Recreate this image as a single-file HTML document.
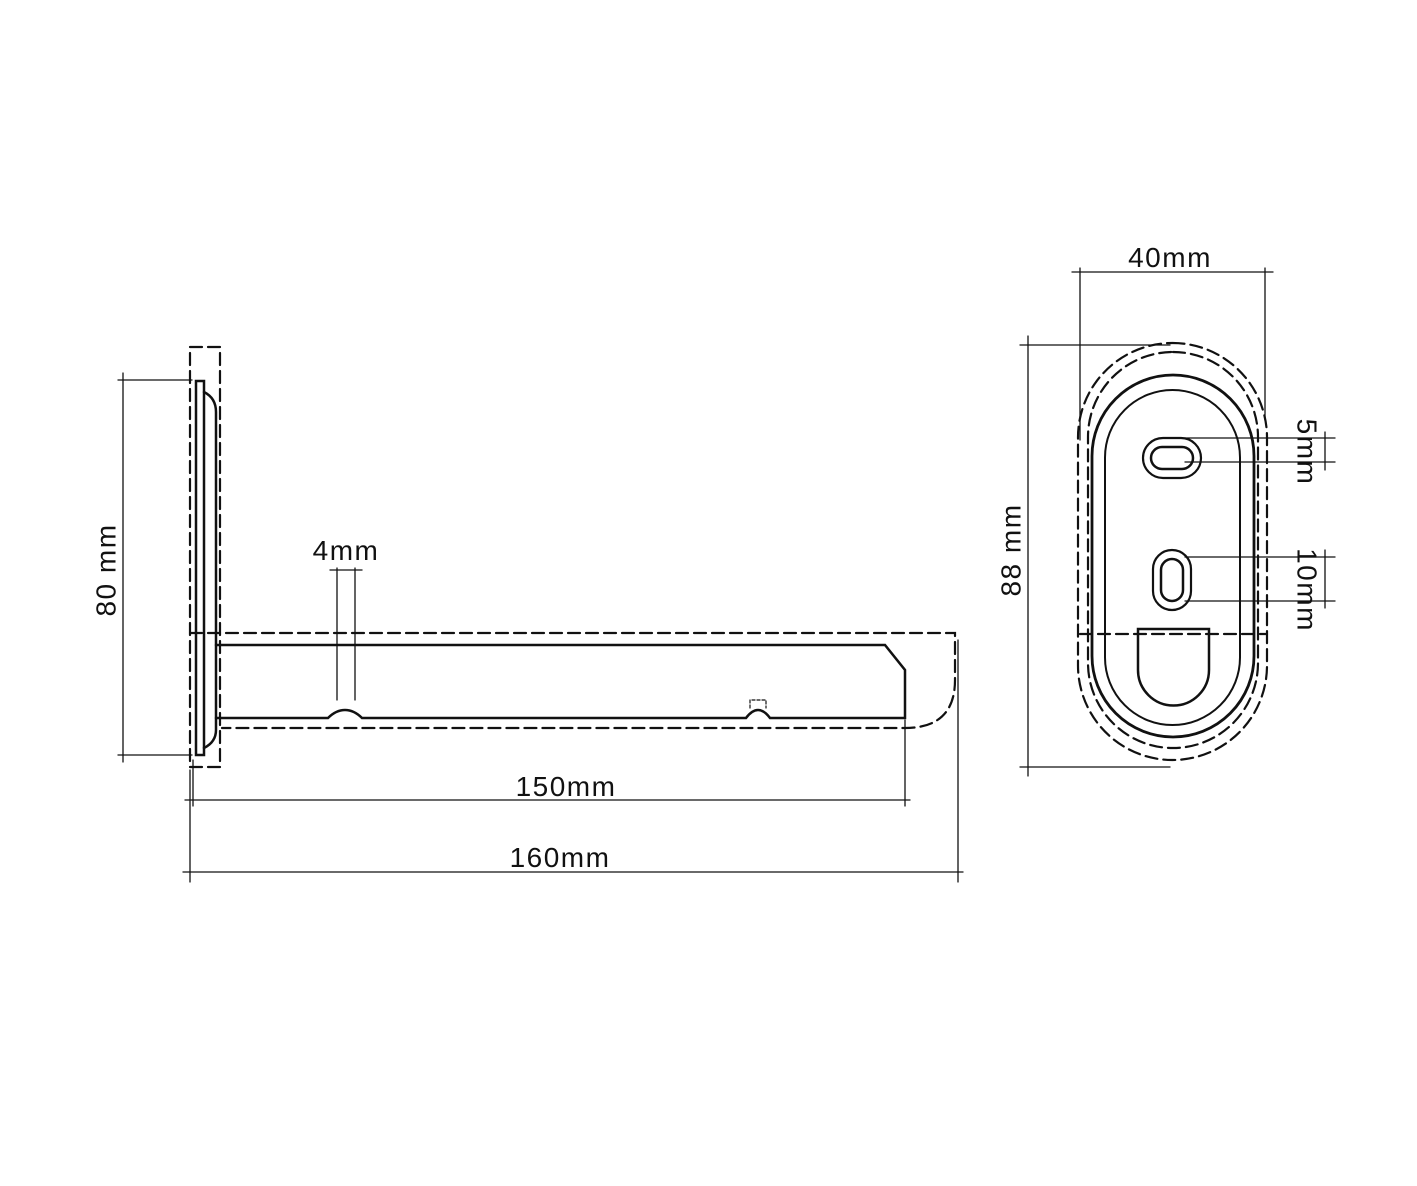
<!DOCTYPE html>
<html><head><style>html,body{margin:0;padding:0;background:#fff}</style></head><body>
<svg width="1417" height="1181" viewBox="0 0 1417 1181" xmlns="http://www.w3.org/2000/svg" font-family="Liberation Sans, sans-serif">
<rect width="1417" height="1181" fill="#fff"/>
<g fill="none" stroke="#111" stroke-linecap="round">
<!-- LEFT VIEW -->
<g stroke-width="2.2" stroke-dasharray="12,6">
<rect x="190" y="347" width="30" height="420"/>
<path d="M190 633 H955 V680 Q955 728 905 728 H222"/>
</g>
<rect x="196" y="381" width="8" height="374" stroke-width="2.5"/>
<path d="M204 392 Q216 398 216 412 V730 Q216 742 204 748" stroke-width="2.5"/>
<path d="M216 645 H885 L905 670 V718 H770 Q764 710 758 710 Q752 710 746 718 H362 Q354 710 345 710 Q336 710 328 718 H216" stroke-width="2.5"/>
<path d="M750 708 V700 H766 V708" stroke-width="1.2" stroke-dasharray="3,2"/>
<g stroke-width="1.3">
<path d="M337 568 V700 M355 568 V700"/>
<path d="M330 570 H362"/>
<path d="M118 380 H192 M118 755 H192 M123 373 V762"/>
<path d="M185 800 H910 M193 760 V806 M905 720 V806"/>
<path d="M183 872 H963 M190 770 V882 M958 640 V882"/>
</g>
<!-- RIGHT VIEW -->
<g stroke-width="1.3">
<path d="M1072 272 H1273 M1080 268 V440 M1265 268 V420"/>
<path d="M1020 345 H1170 M1020 767 H1170 M1028 336 V776"/>
<path d="M1185 438 H1335 M1185 462 H1335 M1325 432 V470"/>
<path d="M1185 557 H1335 M1185 601 H1335 M1325 550 V608"/>
</g>
<g stroke-width="2.2" stroke-dasharray="12,6">
<rect x="1078" y="343" width="189" height="417" rx="94.5"/>
<rect x="1088" y="352" width="170" height="396" rx="85"/>
<path d="M1080 634 H1267"/>
</g>
<rect x="1092" y="375" width="162" height="362" rx="81" stroke-width="2.8"/>
<rect x="1105" y="390" width="135" height="335" rx="67.5" stroke-width="2"/>
<rect x="1143" y="438" width="58" height="40" rx="20" stroke-width="2.2"/>
<rect x="1151" y="447" width="42" height="22" rx="11" stroke-width="2.5"/>
<rect x="1153" y="550" width="38" height="60" rx="19" stroke-width="2.2"/>
<rect x="1161" y="559" width="22" height="42" rx="11" stroke-width="2.5"/>
<path d="M1138 629 H1209 V670 A35.5 35.5 0 0 1 1138 670 Z" stroke-width="2.5"/>
</g>
<g fill="#111" font-size="28" letter-spacing="1.5">
<text x="108" y="570" transform="rotate(-90 108 570)" text-anchor="middle" dominant-baseline="middle">80 mm</text>
<text x="346" y="560" text-anchor="middle">4mm</text>
<text x="566" y="796" text-anchor="middle">150mm</text>
<text x="560" y="867" text-anchor="middle">160mm</text>
<text x="1170" y="267" text-anchor="middle">40mm</text>
<text x="1013" y="550" transform="rotate(-90 1013 550)" text-anchor="middle" dominant-baseline="middle">88 mm</text>
<text x="1305" y="452" transform="rotate(90 1305 452)" text-anchor="middle" dominant-baseline="middle">5mm</text>
<text x="1305" y="590" transform="rotate(90 1305 590)" text-anchor="middle" dominant-baseline="middle">10mm</text>
</g>
</svg>
</body></html>
